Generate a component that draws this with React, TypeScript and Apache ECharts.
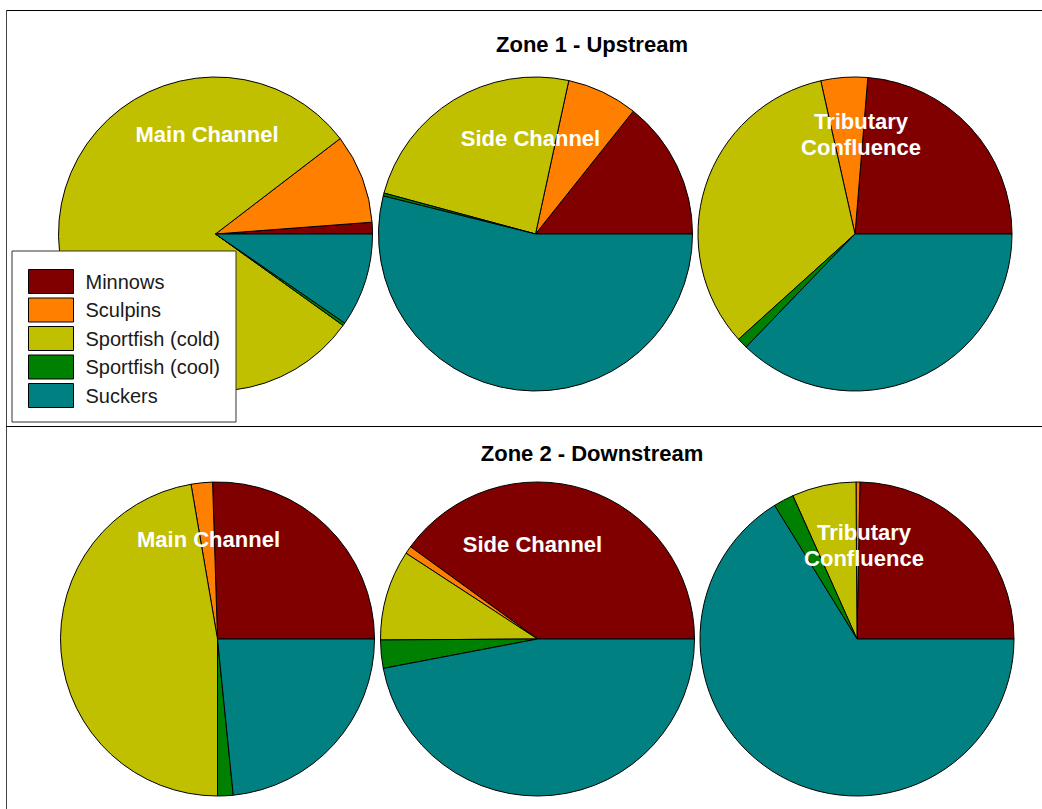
import React, { useEffect, useRef } from "react";
import * as echarts from "echarts";

const categories = ["Minnows", "Sculpins", "Sportfish (cold)", "Sportfish (cool)", "Suckers"];
const colors = ["#800000", "#FF8000", "#C0C000", "#008000", "#008080"];

const zone1Main = [1.2, 9.2, 79.7, 0.3, 9.6];
const zone1Side = [14.3, 7.3, 24.2, 0.3, 53.9];
const zone1Trib = [23.7, 4.8, 33.2, 1.1, 37.2];
const zone2Main = [25.5, 2.2, 47.3, 1.6, 23.4];
const zone2Side = [40.0, 0.8, 9.3, 2.9, 47.0];
const zone2Trib = [24.7, 0.4, 6.6, 2.1, 66.2];

const zoneTitles = ["Zone 1 - Upstream", "Zone 2 - Downstream"];
const siteLabels = ["Main Channel", "Side Channel", "Tributary\nConfluence"];

const FONT = "'Liberation Sans', Arial, Helvetica, sans-serif";

export default function App() {
  const ref = useRef<HTMLDivElement>(null);

  useEffect(() => {
    if (!ref.current) return;
    const chart = echarts.init(ref.current, undefined, { renderer: "svg" });

    const pies = [
      { data: zone1Main, center: [215.5, 234] },
      { data: zone1Side, center: [535.5, 234] },
      { data: zone1Trib, center: [855, 234] },
      { data: zone2Main, center: [217.5, 639] },
      { data: zone2Side, center: [537.5, 639] },
      { data: zone2Trib, center: [857, 639] },
    ];

    const series = pies.map((p, i) => ({
      type: "pie",
      name: "pie" + i,
      center: p.center,
      radius: 157,
      clockwise: false,
      startAngle: 0,
      minAngle: 0,
      avoidLabelOverlap: false,
      label: { show: false },
      labelLine: { show: false },
      emphasis: { disabled: true },
      silent: true,
      itemStyle: { borderColor: "#000", borderWidth: 1 },
      data: p.data.map((v, k) => ({
        name: categories[k],
        value: v,
        itemStyle: { color: colors[k] },
      })),
    }));

    const labelPos = [
      [207, 134],
      [530.5, 138],
      [861, 134],
      [208.5, 539],
      [532.5, 544],
      [864, 545],
    ];

    const graphics: any[] = [
      { type: "line", shape: { x1: 6, y1: 10.5, x2: 1042, y2: 10.5 }, style: { stroke: "#000", lineWidth: 1 } },
      { type: "line", shape: { x1: 6.5, y1: 10, x2: 6.5, y2: 809 }, style: { stroke: "#444", lineWidth: 1 } },
      { type: "line", shape: { x1: 6, y1: 426.5, x2: 1042, y2: 426.5 }, style: { stroke: "#000", lineWidth: 1 } },
      {
        type: "text",
        x: 592,
        y: 44,
        z: 10,
        style: { text: zoneTitles[0], fill: "#000", font: "bold 22px " + FONT, textAlign: "center", textVerticalAlign: "middle" },
      },
      {
        type: "text",
        x: 592,
        y: 453,
        z: 10,
        style: { text: zoneTitles[1], fill: "#000", font: "bold 22px " + FONT, textAlign: "center", textVerticalAlign: "middle" },
      },
    ];

    labelPos.forEach((pos, i) => {
      graphics.push({
        type: "text",
        x: pos[0],
        y: pos[1],
        z: 10,
        style: {
          text: siteLabels[i % 3],
          fill: "#fff",
          font: "bold 22px " + FONT,
          lineHeight: 26,
          textAlign: "center",
          textVerticalAlign: "middle",
        },
      });
    });

    chart.setOption({
      animation: false,
      backgroundColor: "#fff",
      legend: {
        orient: "vertical",
        left: 12,
        top: 251,
        padding: [18, 16, 14, 16],
        itemWidth: 45,
        itemHeight: 24,
        itemGap: 3.5,
        backgroundColor: "#fff",
        borderColor: "#333",
        borderWidth: 1,
        borderRadius: 0,
        selectedMode: false,
        icon: "rect",
        itemStyle: { borderColor: "#000", borderWidth: 1 },
        textStyle: { fontFamily: FONT, fontSize: 20, color: "#1a1a1a", padding: [0, 0, 0, 7] },
        data: categories,
        z: 20,
      },
      graphic: { elements: graphics },
      series,
    });

    return () => chart.dispose();
  }, []);

  return (
    <div
      ref={ref}
      style={{ position: "absolute", left: 0, top: 0, width: 1042, height: 809 }}
    />
  );
}
